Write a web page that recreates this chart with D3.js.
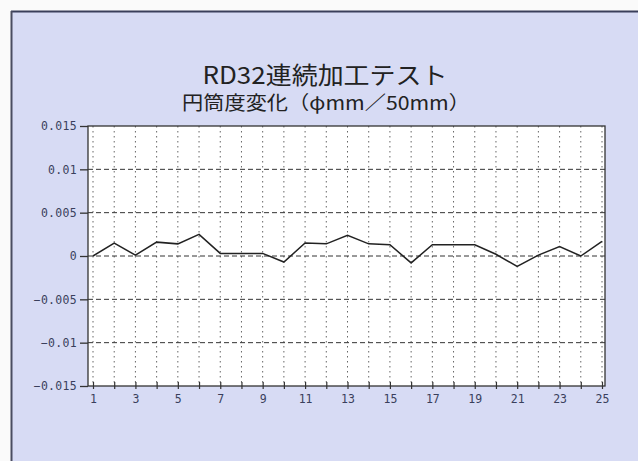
<!DOCTYPE html>
<html><head><meta charset="utf-8">
<script src="https://cdn.jsdelivr.net/npm/d3@7"></script>
<style>html,body{margin:0;padding:0;background:#fafafa;}svg{display:block;}</style>
</head><body><svg id="c" width="638" height="461"></svg>
<script>
const categories = d3.range(1, 26);
const values = [0.0000, 0.0015, 0.0001, 0.0016, 0.0014, 0.0025, 0.0003, 0.0003, 0.0003, -0.0007,
                0.0015, 0.0014, 0.0024, 0.0014, 0.0013, -0.0008, 0.0013, 0.0013, 0.0013, 0.0002,
                -0.0012, 0.0001, 0.0011, 0.0000, 0.0017];
const yTicks = [-0.015, -0.01, -0.005, 0, 0.005, 0.01, 0.015];
const yTickLabels = ["−0.015", "−0.01", "−0.005", "0", "0.005", "0.01", "0.015"];
const xTickLabels = ["1","3","5","7","9","11","13","15","17","19","21","23","25"];
const title = "RD32連続加工テスト";
const subtitle = "円筒度変化（φmm／50mm）";

const svg = d3.select("#c");
// panel
svg.append("rect").attr("x", 11).attr("y", 11).attr("width", 640).attr("height", 460).attr("fill", "#d7dbf4");
svg.append("line").attr("x1", 11).attr("x2", 638).attr("y1", 11.5).attr("y2", 11.5).attr("stroke", "#3a3f5a").attr("stroke-width", 2);
svg.append("line").attr("x1", 11.5).attr("x2", 11.5).attr("y1", 11).attr("y2", 461).attr("stroke", "#4a4d60").attr("stroke-width", 2);

const L = 88, R = 605, T = 126, B = 386;
const x = d3.scaleLinear().domain([1, 25]).range([93, 602]);
const y = d3.scaleLinear().domain([-0.015, 0.015]).range([B, T]);

svg.append("rect").attr("x", L).attr("y", T).attr("width", R - L).attr("height", B - T).attr("fill", "#ffffff");

// vertical dotted grid
svg.append("g").selectAll("line").data(categories).join("line")
  .attr("x1", d => x(d)).attr("x2", d => x(d)).attr("y1", T).attr("y2", B)
  .attr("stroke", "#666").attr("stroke-width", 1).attr("stroke-dasharray", "1.5,3.5");
// horizontal dashed grid
svg.append("g").selectAll("line").data(yTicks.filter(v => v > -0.015 && v < 0.015)).join("line")
  .attr("x1", L).attr("x2", R).attr("y1", d => y(d)).attr("y2", d => y(d))
  .attr("stroke", "#333").attr("stroke-width", 1).attr("stroke-dasharray", "5,3");

// frame
svg.append("rect").attr("x", L).attr("y", T).attr("width", R - L).attr("height", B - T)
  .attr("fill", "none").attr("stroke", "#333").attr("stroke-width", 1.3);

// y axis
const yAxis = d3.axisLeft(y).tickValues(yTicks).tickSize(8).tickPadding(3)
  .tickFormat((d, i) => yTickLabels[i]);
const gy = svg.append("g").attr("transform", `translate(${L},0)`).call(yAxis);
gy.select(".domain").remove();
gy.selectAll("line").attr("stroke", "#333").attr("stroke-width", 1.3);
gy.selectAll("text").attr("font-family", "DejaVu Sans Mono, monospace").attr("font-size", 11.5)
  .attr("fill", "#3a3f5c").attr("letter-spacing", "0.3px");

// x axis
const xAxis = d3.axisBottom(x).tickValues(categories).tickSize(0).tickPadding(9)
  .tickFormat(d => xTickLabels.includes(String(d)) ? String(d) : "");
const gx = svg.append("g").attr("transform", `translate(0,${B})`).call(xAxis);
gx.select(".domain").remove();
gx.selectAll(".tick line").remove();
gx.selectAll(".tick").append("line").attr("y1", -4).attr("y2", 3).attr("stroke", "#333").attr("stroke-width", 1.2);
gx.selectAll("text").attr("font-family", "DejaVu Sans Mono, monospace").attr("font-size", 11.5)
  .attr("fill", "#3a3f5c");

// data line
const line = d3.line().x((d, i) => x(categories[i])).y(d => y(d));
svg.append("path").datum(values).attr("d", line).attr("fill", "none")
  .attr("stroke", "#222").attr("stroke-width", 1.5).attr("stroke-linejoin", "miter");

// titles
svg.append("text").attr("x", 325).attr("y", 84).attr("text-anchor", "middle")
  .attr("font-family", "Noto Sans CJK JP").attr("font-size", 24).attr("fill", "#222")
  .attr("textLength", 245).attr("lengthAdjust", "spacingAndGlyphs").text(title);
svg.append("text").attr("x", 326).attr("y", 110).attr("text-anchor", "middle")
  .attr("font-family", "Noto Sans CJK JP").attr("font-size", 19).attr("fill", "#222")
  .attr("textLength", 288).attr("lengthAdjust", "spacingAndGlyphs").text(subtitle);
</script></body></html>
